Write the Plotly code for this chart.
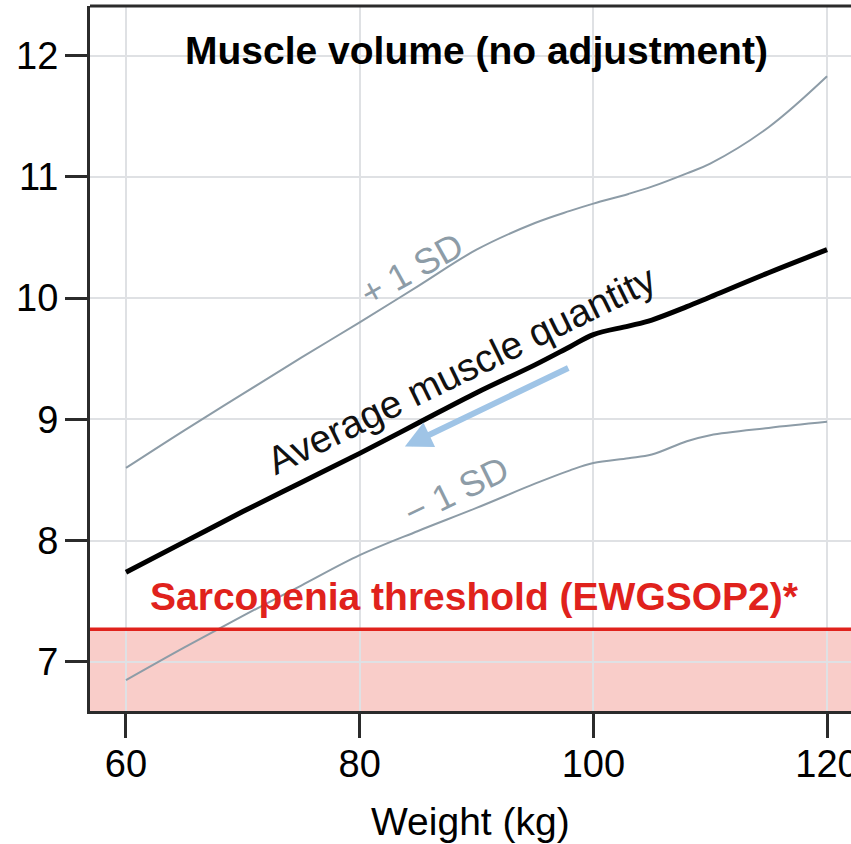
import plotly.graph_objects as go

# ---- data ----
weight = [60, 65, 70, 75, 80, 85, 90, 95, 98, 100, 103, 105, 108, 110, 115, 120]
mean_muscle = [7.74, 7.99, 8.24, 8.48, 8.72, 8.97, 9.22, 9.45, 9.60, 9.70, 9.77, 9.82, 9.93, 10.01, 10.21, 10.40]
plus_sd = [8.60, 8.91, 9.21, 9.51, 9.80, 10.10, 10.40, 10.62, 10.72, 10.78, 10.86, 10.92, 11.03, 11.11, 11.41, 11.83]
minus_sd = [6.85, 7.12, 7.38, 7.63, 7.88, 8.08, 8.27, 8.47, 8.58, 8.64, 8.68, 8.71, 8.82, 8.87, 8.93, 8.98]
threshold = 7.27
x_ticks = [60, 80, 100, 120]
y_ticks = [7, 8, 9, 10, 11, 12]
x_range = [56.92, 122.05]
y_range = [6.595, 12.41]

FONT = "Liberation Sans, Arial, sans-serif"
GRAY = "#8d9ca7"

fig = go.Figure()
fig.add_trace(go.Scatter(x=weight, y=plus_sd, mode="lines", line=dict(color=GRAY, width=2, shape="spline"), hoverinfo="skip"))
fig.add_trace(go.Scatter(x=weight, y=minus_sd, mode="lines", line=dict(color=GRAY, width=2, shape="spline"), hoverinfo="skip"))
fig.add_trace(go.Scatter(x=weight, y=mean_muscle, mode="lines", line=dict(color="black", width=5, shape="spline"), hoverinfo="skip"))

# shaded sarcopenia region
fig.add_shape(type="rect", xref="paper", yref="y", x0=0, x1=1, y0=y_range[0], y1=threshold,
              fillcolor="rgba(235,75,60,0.28)", line=dict(width=0), layer="between")
fig.add_shape(type="line", xref="paper", yref="y", x0=0, x1=1, y0=threshold, y1=threshold,
              line=dict(color="#e0221c", width=3.5), layer="above")

# annotations
fig.add_annotation(x=90.0, y=12.045, text="<b>Muscle volume (no adjustment)</b>", showarrow=False,
                   font=dict(family=FONT, size=39, color="black"))
fig.add_annotation(x=89.8, y=7.54, text="<b>Sarcopenia threshold (EWGSOP2)*</b>", showarrow=False,
                   font=dict(family=FONT, size=39, color="#e0221c"))
fig.add_annotation(x=84.4, y=10.24, text="+ 1 SD", showarrow=False, textangle=-29,
                   font=dict(family=FONT, size=36, color=GRAY))
fig.add_annotation(x=88.74, y=9.41, text="Average muscle quantity", showarrow=False, textangle=-26,
                   font=dict(family=FONT, size=39, color="#111111"))
fig.add_annotation(x=88.3, y=8.41, text="\u2212 1 SD", showarrow=False, textangle=-26,
                   font=dict(family=FONT, size=36, color=GRAY))
# arrow
fig.add_annotation(x=83.87, y=8.777, ax=97.98, ay=9.43, xref="x", yref="y", axref="x", ayref="y",
                   text="", showarrow=True, arrowhead=2, arrowsize=0.9, arrowwidth=6, arrowcolor="#9fc4e6")
# axis title
fig.add_annotation(x=89.5, y=-0.157, xref="x", yref="paper", yanchor="middle", text="Weight (kg)", showarrow=False,
                   font=dict(family=FONT, size=39, color="black"))

fig.update_xaxes(range=x_range, tickvals=x_ticks, ticktext=[str(v) for v in x_ticks],
                 showgrid=True, gridcolor="#dfe1e4", gridwidth=2, zeroline=False,
                 showline=True, linecolor="#2b2b2b", linewidth=3, mirror=False,
                 ticks="outside", ticklen=24, tickwidth=2.5, tickcolor="#2b2b2b",
                 tickfont=dict(family=FONT, size=38, color="black"), ticklabelstandoff=-7,
                 ticklabeloverflow="allow", automargin=False)
fig.update_yaxes(range=y_range, tickvals=y_ticks, ticktext=[str(v) for v in y_ticks],
                 showgrid=True, gridcolor="#dfe1e4", gridwidth=2, zeroline=False,
                 showline=True, linecolor="#2b2b2b", linewidth=3,
                 ticks="outside", ticklen=22, tickwidth=2.5, tickcolor="#2b2b2b",
                 tickfont=dict(family=FONT, size=38, color="black"), ticklabelstandoff=-1,
                 ticklabeloverflow="allow", automargin=False)
# top border
fig.add_shape(type="line", xref="paper", yref="paper", x0=0, x1=1, y0=1, y1=1,
              line=dict(color="#2b2b2b", width=3), layer="above")

fig.update_layout(width=851, height=844, margin=dict(l=90, r=0, t=6, b=133, autoexpand=False),
                  plot_bgcolor="white", paper_bgcolor="white", showlegend=False)
fig.write_html("out.html")
